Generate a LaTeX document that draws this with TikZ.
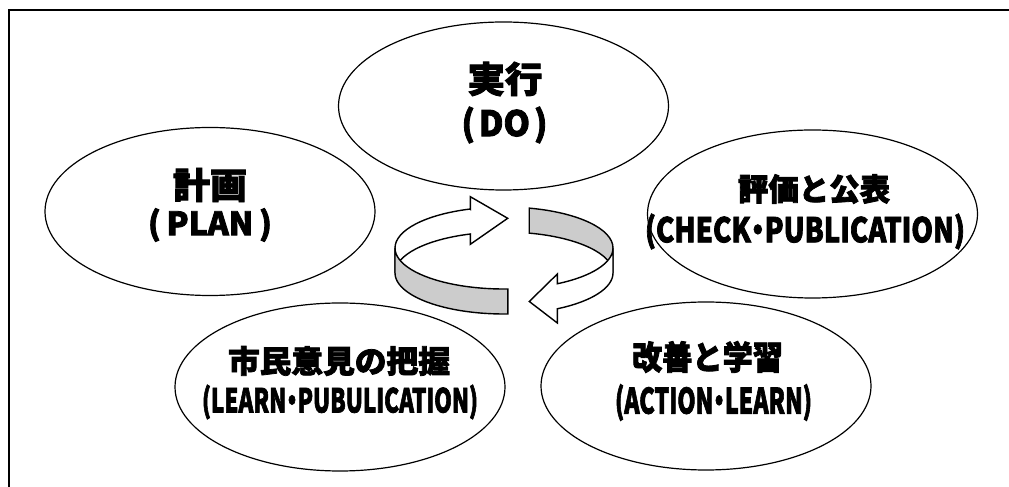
\documentclass[tikz,border=0pt]{standalone}
\usepackage{fontspec}
\usepackage{graphicx}
\usetikzlibrary{shapes.geometric}
\newfontfamily\jp{Noto Sans CJK JP}[BoldFeatures={FakeBold=2.5}]
\newcommand\fitw[2]{\resizebox{#1}{\height}{#2}}
\newcommand\mdot{\makebox[0.5em]{・}}
\definecolor{ringgray}{RGB}{204,204,204}
\begin{document}
\begin{tikzpicture}[x=1pt,y=1pt,
  oval/.style={ellipse, draw, line width=1.2pt, minimum width=330pt, minimum height=168pt, inner sep=0pt},
  txt/.style={inner sep=0pt, anchor=center},
  ring/.style={draw, line width=1.4pt, line join=miter},
]
\useasboundingbox (0,0) rectangle (1009,487);
\draw[line width=2pt] (9,0) -- (9,477) -- (1009,477);

% ellipses
\node[oval] (do)   at (503.5,381) {};
\node[oval] (plan) at (210,275.5) {};
\node[oval] (chk)  at (812.5,273) {};
\node[oval] (lrn)  at (340,100) {};
\node[oval] (act)  at (706,101) {};

% texts
\node[txt, font=\jp\bfseries\fontsize{36}{38}\selectfont] (doA) at (505,408) {\fitw{75pt}{実行}};
\node[txt, font=\jp\bfseries\fontsize{35}{37}\selectfont] (doB) at (504.5,362) {\fitw{86pt}{(\hspace{0.12em}DO\hspace{0.12em})}};
\node[txt, font=\jp\bfseries\fontsize{36}{38}\selectfont] (planA) at (210,302) {\fitw{74pt}{計画}};
\node[txt, font=\jp\bfseries\fontsize{32}{34}\selectfont] (planB) at (210,262) {\fitw{124pt}{(\hspace{0.18em}PLAN\hspace{0.18em})}};
\node[txt, font=\jp\bfseries\fontsize{31}{33}\selectfont] (chkA) at (814,298) {\fitw{152pt}{評価と公表}};
\node[txt, font=\jp\bfseries\fontsize{34}{36}\selectfont] (chkB) at (805,255.5) {\fitw{320pt}{(CHECK\mdot PUBLICATION)}};
\node[txt, font=\jp\bfseries\fontsize{31}{33}\selectfont] (lrnA) at (339,126) {\fitw{222pt}{市民意見の把握}};
\node[txt, font=\jp\bfseries\fontsize{33}{35}\selectfont] (lrnB) at (340,85) {\fitw{276pt}{(LEARN\mdot PUBULICATION)}};
\node[txt, font=\jp\bfseries\fontsize{33}{35}\selectfont] (actA) at (707.5,130) {\fitw{151pt}{改善と学習}};
\node[txt, font=\jp\bfseries\fontsize{35}{37}\selectfont] (actB) at (713.5,84.5) {\fitw{197pt}{(ACTION\mdot LEARN)}};

% circular arrow: back parts
\path[ring, fill=white] (470.32,277.99) -- (470.32,290.3) -- (507.7,268.7) -- (470.32,242.7) -- (470.32,252.99)
  arc[start angle=108, end angle=180, x radius=109pt, y radius=41pt] -- (395,239)
  arc[start angle=180, end angle=108, x radius=109pt, y radius=41pt] -- cycle;
\path[ring, fill=ringgray] (529.26,278.88)
  arc[start angle=76.6, end angle=0, x radius=109pt, y radius=41pt] -- (613,214)
  arc[start angle=0, end angle=76.6, x radius=109pt, y radius=41pt] -- cycle;
% front parts
\path[ring, fill=ringgray] (507.8,198.02)
  arc[start angle=-88, end angle=-180, x radius=109pt, y radius=41pt] -- (395,214)
  arc[start angle=-180, end angle=-88, x radius=109pt, y radius=41pt] -- cycle;
\path[ring, fill=white] (613,239)
  arc[start angle=0, end angle=-60.7, x radius=109pt, y radius=41pt] -- (557.34,213) -- (529.3,185.5) -- (557.34,164) -- (557.34,178.24)
  arc[start angle=-60.7, end angle=0, x radius=109pt, y radius=41pt] -- cycle;
\end{tikzpicture}
\end{document}
